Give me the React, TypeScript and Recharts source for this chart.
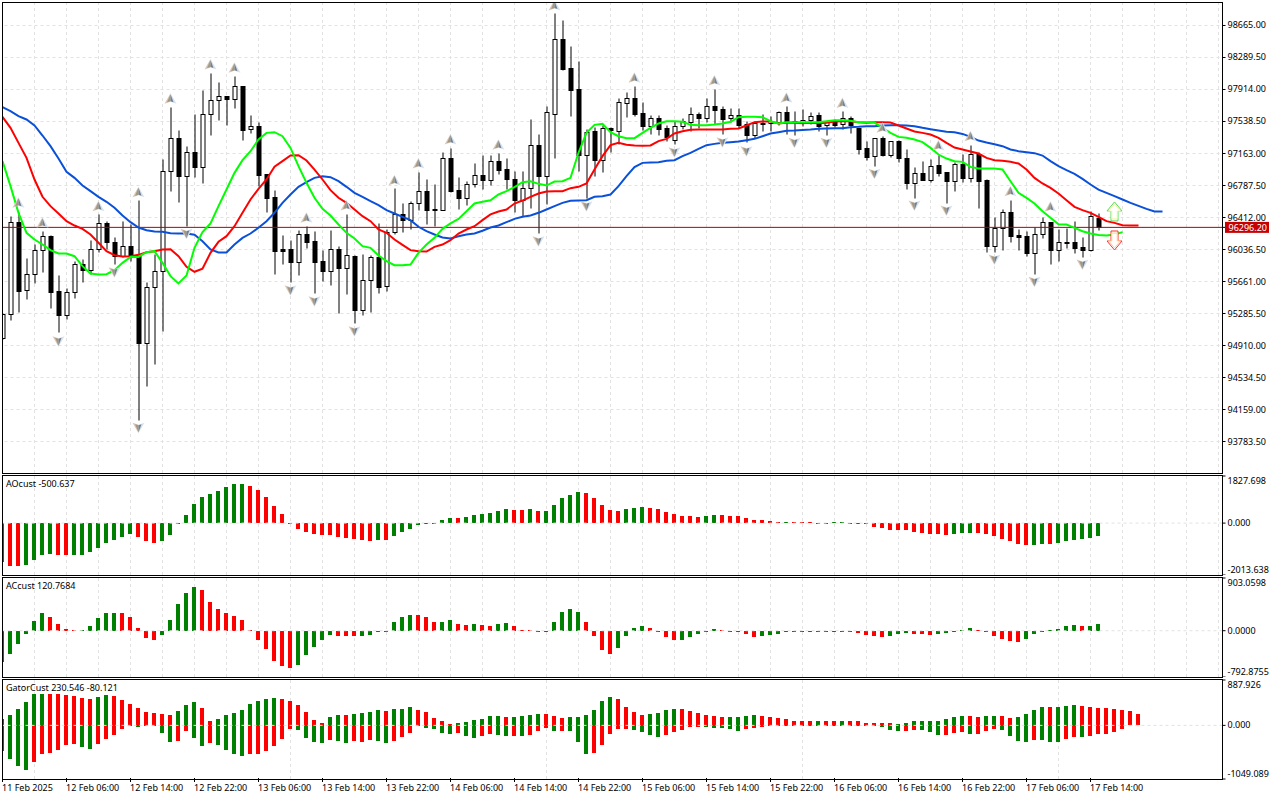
// App.tsx - BTC H1 chart with alligator, fractals, AO, AC and gator panes
import { Bar, CartesianGrid, ComposedChart, Line, ReferenceLine, XAxis, YAxis } from 'recharts'

const opens = [
  94989,95270,96349,95552,95739,96021,96185,95540,95258,95528,
  95857,95786,96033,96338,96115,95950,96068,95950,94930,95587,
  95775,96948,97335,96889,97171,97003,97617,97781,97828,97793,
  97945,97441,97476,96913,96643,96033,96033,95888,96209,96127,
  95892,95782,96033,95817,95954,95325,95669,95939,95599,96232,
  96448,96381,96572,96713,96502,96498,97100,96725,96639,96795,
  96901,96842,97065,96971,96854,96615,96748,97253,96897,97617,
  98497,98156,97914,97143,97417,97085,97460,97425,97754,97804,
  97628,97484,97570,97452,97319,97484,97531,97621,97578,97711,
  97675,97570,97605,97503,97374,97515,97515,97531,97640,97542,
  97530,97554,97613,97491,97523,97503,97570,97452,97218,97124,
  97339,97143,97304,97100,96815,96924,96850,97022,96936,96838,
  97034,96869,97147,96850,96075,96279,96467,96201,96185,95993,
  96208,96349,96025,96118,96115,96056,96025,96396,
]
const highs = [
  95290,96427,96467,95927,96095,96252,96201,95731,95575,95900,
  95919,96138,96448,96369,96177,96361,96326,96611,95646,95978,
  97092,97707,97433,97245,97617,97902,98102,97992,97828,98063,
  97945,97609,97523,96917,96725,96201,96138,96256,96310,96248,
  96029,96256,96068,96443,95962,95974,95966,96338,96271,96748,
  96576,96600,96940,96858,96795,97171,97222,96881,96834,97046,
  97140,97140,97163,97104,96952,96948,97562,97386,97718,98806,
  98724,98419,98239,97445,97468,97492,97472,97808,97875,97945,
  97758,97605,97609,97492,97535,97578,97703,97648,97808,97914,
  97718,97691,97691,97539,97539,97621,97601,97656,97718,97660,
  97679,97640,97640,97542,97562,97660,97593,97452,97307,97335,
  97358,97304,97310,97210,96998,97065,97092,97139,96944,97053,
  97151,97257,97178,96858,96412,96506,96611,96271,96248,96294,
  96408,96349,96271,96283,96361,96173,96486,96455,
]
const lows = [
  94981,95207,95301,95450,95638,95771,95348,95059,95215,95466,
  95646,95743,95997,96037,95861,95939,95900,94034,94426,94692,
  95074,96721,96592,96310,96885,96815,97378,97554,97495,97695,
  97319,97402,96780,96467,95747,95864,95653,95731,96052,95520,
  95665,95618,95290,95512,95172,95266,95301,95524,95548,96209,
  96232,96271,96494,96330,96310,96498,96709,96506,96553,96764,
  96741,96787,96920,96741,96475,96427,96514,96224,96565,97108,
  98141,97601,96956,96631,96889,96944,97179,97269,97589,97601,
  97437,97382,97378,97308,97265,97445,97417,97452,97523,97503,
  97390,97523,97452,97288,97343,97425,97425,97492,97386,97374,
  97483,97503,97425,97374,97464,97445,97397,97155,97085,97014,
  97131,97112,97053,96740,96639,96846,96826,96889,96576,96721,
  96826,96826,96517,96005,95997,96028,96122,96028,95958,95743,
  96169,95860,95892,96052,95989,95938,96017,96259,
]
const closes = [
  95274,96349,95548,95739,96021,96185,95536,95258,95528,95857,
  95786,96033,96338,96115,95950,96068,95950,94930,95587,95775,
  96948,97335,96889,97171,97003,97617,97781,97828,97793,97945,
  97437,97476,96909,96639,96017,96017,95888,96209,96123,95888,
  95782,96033,95817,95962,95325,95669,95939,95595,96240,96443,
  96373,96572,96713,96498,96498,97100,96717,96639,96795,96901,
  96842,97065,96967,96854,96615,96748,97253,96897,97640,98497,
  98149,97906,97143,97405,97085,97452,97437,97758,97804,97625,
  97484,97570,97449,97347,97484,97535,97617,97578,97711,97671,
  97562,97605,97495,97374,97511,97507,97535,97640,97534,97530,
  97554,97601,97483,97523,97495,97570,97495,97214,97120,97335,
  97139,97304,97100,96815,96924,96850,97014,96928,96838,97034,
  96869,97147,96830,96075,96279,96467,96193,96181,95989,96208,
  96349,96025,96115,96110,96048,96028,96420,96296.2,
]

// alligator lines, already shifted forward
const lips = [
  97073,96780,96467,96232,96154,96095,96029,95990,95990,95958,
  95841,95755,95743,95747,95794,95880,95950,95950,96005,96017,
  95880,95724,95638,95731,96056,96240,96342,96545,96741,96936,
  97085,97190,97327,97405,97413,97366,97229,97014,96819,96643,
  96514,96435,96330,96232,96166,96076,96056,95966,95900,95853,
  95853,95861,95997,96095,96173,96279,96342,96396,96486,96576,
  96596,96615,96682,96721,96768,96827,96838,96807,96787,96834,
  96838,96877,97171,97405,97499,97511,97413,97366,97343,97343,
  97405,97464,97515,97542,97542,97535,97499,97495,97495,97503,
  97515,97535,97589,97593,97593,97589,97542,97515,97530,97530,
  97530,97530,97530,97542,97554,97554,97546,97530,97530,97526,
  97464,97405,97358,97347,97327,97296,97229,97151,97104,97073,
  97065,97006,96987,96987,96987,96975,96838,96701,96642,96576,
  96486,96408,96333,96330,96290,96251,96224,96208,96201,96212,
  96240,
]
const teeth = [
  97593,97464,97288,97112,96858,96655,96545,96459,96369,96318,
  96279,96213,96115,96017,95970,95954,95958,95974,96005,96017,
  96037,96040,95958,95833,95775,95810,95997,96127,96193,96310,
  96467,96623,96748,96858,97007,97073,97140,97143,97081,96975,
  96858,96733,96643,96584,96506,96427,96369,96271,96232,96154,
  96091,96029,96017,96013,96068,96095,96146,96224,96271,96310,
  96381,96448,96482,96506,96576,96611,96655,96694,96717,96721,
  96721,96756,96772,96811,96975,97132,97261,97288,97265,97257,
  97253,97257,97308,97335,97398,97425,97441,97445,97445,97445,
  97445,97452,97456,97492,97531,97538,97538,97515,97523,97523,
  97519,97523,97519,97523,97538,97542,97542,97530,97523,97530,
  97530,97526,97491,97456,97421,97405,97386,97347,97288,97233,
  97210,97186,97163,97112,97085,97077,97065,97045,96975,96877,
  96811,96760,96693,96615,96537,96498,96467,96420,96369,96349,
  96322,96318,96318,
]
const jaw = [
  97707,97660,97601,97562,97492,97374,97249,97104,96948,96877,
  96787,96721,96655,96596,96526,96435,96357,96295,96263,96248,
  96244,96228,96224,96224,96209,96134,96037,96001,96001,96095,
  96173,96224,96291,96369,96467,96584,96682,96772,96827,96877,
  96897,96885,96838,96772,96701,96655,96604,96557,96498,96459,
  96420,96381,96303,96252,96213,96177,96166,96193,96213,96224,
  96256,96295,96318,96357,96396,96420,96435,96467,96506,96545,
  96584,96608,96611,96615,96655,96662,96682,96780,96897,97003,
  97053,97057,97061,97077,97085,97132,97171,97218,97261,97276,
  97288,97296,97304,97319,97335,97366,97398,97413,97429,97433,
  97440,97444,97452,97456,97460,97460,97472,97476,97483,97483,
  97491,97495,97495,97491,97483,97464,97448,97433,97417,97413,
  97393,97358,97315,97292,97272,97249,97210,97190,97178,97167,
  97139,97073,97014,96967,96924,96865,96799,96740,96701,96662,
  96623,96584,96549,96513,96482,96482,
]

// fractals: bar index and price of the marker
const upFractalBars = [2,5,12,17,21,26,29,38,43,49,52,56,62,69,79,89,98,105,110,117,121,126,131]
const upFractalPrices = [96584,96349,96545,96709,97804,98207,98168,96408,96553,96850,97046,97327,97265,98900,98051,98020,97816,97757,97464,97257,97366,96721,96537]
const downFractalBars = [7,14,17,23,36,39,44,67,73,84,90,93,99,103,109,114,118,124,129,135]
const downFractalPrices = [94960,95771,93944,96220,95559,95430,95078,96134,96545,97179,97296,97190,97288,97288,96924,96553,96494,95919,95657,95860]
const signalBar = 139
const buySignalPrice = 96483
const sellSignalPrice = 96142

const aoValues = [
  -1526,-1655,-1655,-1616,-1422,-1228,-1190,-1228,-1228,-1228,
  -1228,-1138,-957,-763,-647,-530,-414,-530,-685,-763,
  -685,-453,-45,323,750,1021,1138,1254,1409,1526,
  1526,1448,1293,1021,672,362,20,-220,-336,-414,
  -453,-453,-530,-569,-608,-647,-685,-647,-647,-491,
  -336,-220,-65,15,15,129,207,207,246,323,
  362,401,478,556,517,517,556,478,478,711,
  983,1099,1215,1177,983,711,517,478,556,595,
  634,595,556,440,362,284,284,246,284,323,
  323,284,284,207,129,129,90,52,52,45,
  40,35,15,-12,39,35,-12,-26,-52,-142,
  -181,-259,-259,-259,-336,-375,-414,-414,-453,-414,
  -375,-375,-375,-414,-491,-608,-685,-802,-840,-840,
  -802,-802,-763,-685,-647,-608,-569,-500.637,
]
const aoColors = 'rrrggggrrg' + 'gggggggrrr' + 'gggggggggg' + 'grrrrrrrrr' + 'rrrrrrrgrg' + 'gggggggrgg' + 'ggggrrgrgg' + 'gggrrrrrgg' + 'grrrrrrrgg' + 'rrrrrrrrgr' + 'rrrrggrrrr' + 'rrrrrrrrrg' + 'ggrrrrrrrg' + 'grgggggg'

const acValues = [
  -534,-403,-233,-57,159,295,227,108,23,11,
  6,74,210,295,312,295,227,40,-131,-165,
  -80,176,466,653,755,704,500,364,312,244,
  176,17,-165,-318,-523,-608,-642,-591,-420,-284,
  -165,-80,-97,-97,-97,-97,-80,-6,-6,142,
  227,261,261,227,142,142,176,108,91,108,
  91,74,108,125,74,17,11,-17,-6,142,
  329,364,329,142,-97,-335,-403,-301,-97,40,
  74,40,-28,-114,-165,-165,-114,-62,-6,34,
  17,-6,-11,-62,-114,-97,-80,-62,-28,-28,
  -6,-6,-28,-23,-6,-6,-6,-45,-80,-97,
  -114,-97,-62,-45,-62,-62,-80,-62,-45,-6,
  11,51,11,-11,-97,-148,-182,-199,-148,-62,
  -6,11,34,74,102,74,85,120.7684,
]
const acColors = 'rgggggrrrr' + 'gggggrrrrr' + 'gggggrrrrr' + 'rrrrrrrggg' + 'ggrrrggggg' + 'ggrrrggrrg' + 'rrggrrrrgg' + 'gggrrrrggg' + 'grrrrggggg' + 'rrrrrggggg' + 'ggrgggrrrr' + 'rgggrrrggg' + 'ggrrrrrrgg' + 'gggggrgg'

const gatorUpper = [
  123,201,318,454,610,610,610,610,591,571,
  532,513,552,591,571,493,415,337,260,240,
  221,201,279,396,454,337,84,123,201,240,
  299,415,474,513,532,513,474,396,260,104,
  45,162,201,201,221,240,260,299,279,318,
  318,357,299,260,143,84,26,45,65,104,
  123,182,182,162,162,182,201,221,221,182,
  143,162,162,201,299,474,552,513,357,260,
  201,221,240,299,318,318,279,240,201,182,
  162,162,162,182,201,182,162,143,123,84,
  84,84,84,84,84,84,84,84,45,45,
  39,39,26,45,84,84,84,84,123,162,
  182,182,162,182,182,182,143,162,221,299,
  357,357,357,376,396,376,357,337,337,318,
  299,279,230.546,
]
const gatorUpperColors = 'ggggggrrrr' + 'rrggrrrrrr' + 'rrgggrrggg' + 'gggggrrrrr' + 'rggrggggrg' + 'ggrrrrrggg' + 'gggrggggrr' + 'rggggggrrr' + 'rggggrrrrr' + 'rggggrrrrr' + 'rrgrrgrrrr' + 'rrgggggggg' + 'grrggrrggg' + 'grgggrrrrr' + 'rrr'
const gatorLower = [
  -493,-655,-792,-870,-714,-558,-539,-480,-383,-363,
  -422,-461,-363,-266,-188,-71,-6,-26,-6,-6,
  -149,-325,-305,-110,-247,-402,-344,-383,-480,-558,
  -597,-558,-558,-500,-402,-266,-71,-91,-247,-325,
  -344,-286,-305,-344,-305,-325,-286,-305,-344,-305,
  -227,-149,-13,-52,-71,-149,-169,-149,-208,-247,
  -208,-169,-188,-208,-208,-208,-188,-110,-52,-110,
  -110,-110,-325,-558,-539,-383,-169,-71,-71,-91,
  -130,-188,-227,-188,-130,-91,-32,-32,-32,-52,
  -52,-71,-110,-71,-52,-32,-13,-6,-13,-6,
  -6,-6,-13,-6,-6,-6,-6,-13,-6,-6,
  -32,-91,-110,-110,-91,-91,-130,-188,-188,-149,
  -130,-169,-169,-110,-71,-91,-208,-305,-325,-286,
  -286,-325,-325,-266,-227,-227,-208,-169,-169,-130,
  -80.121,
]
const gatorLowerColors = 'ggggrrrrrr' + 'ggrrrrrggr' + 'ggrrggrggg' + 'grrrrrrggg' + 'grggrrrggr' + 'rrrggggrgg' + 'rrggrgrrrg' + 'rgggrrrrrg' + 'gggrrrrrgg' + 'gggrrrrrrr' + 'rrgrrrrrrr' + 'gggrrgggrr' + 'rgrrrggggr' + 'gggrrgrrrr' + 'r'

const priceTicks = [98665,98289.5,97914,97538.5,97163,96787.5,96412,96036.5,95661,95285.5,94910,94534.5,94159,93783.5]
const lastPrice = 96296.2
const timeLabels: Record<number, string> = {
  0: '11 Feb 2025', 8: '12 Feb 06:00', 16: '12 Feb 14:00', 24: '12 Feb 22:00', 32: '13 Feb 06:00',
  40: '13 Feb 14:00', 48: '13 Feb 22:00', 56: '14 Feb 06:00', 64: '14 Feb 14:00', 72: '14 Feb 22:00',
  80: '15 Feb 06:00', 88: '15 Feb 14:00', 96: '15 Feb 22:00', 104: '16 Feb 06:00', 112: '16 Feb 14:00',
  120: '16 Feb 22:00', 128: '17 Feb 06:00', 136: '17 Feb 14:00',
}
const gridBars = Array.from({ length: 38 }, (_, k) => (k + 1) * 4)

const BAR_COUNT = 153 // 138 candles plus the empty space on the right
const rows = Array.from({ length: BAR_COUNT }, (_, i) => {
  const upAt = upFractalBars.indexOf(i)
  const downAt = downFractalBars.indexOf(i)
  return {
    i,
    range: i < opens.length ? [lows[i], highs[i]] : null,
    open: opens[i],
    close: closes[i],
    high: highs[i],
    low: lows[i],
    lips: lips[i] ?? null,
    teeth: teeth[i] ?? null,
    jaw: jaw[i] ?? null,
    upFractal: upAt >= 0 ? upFractalPrices[upAt] : null,
    downFractal: downAt >= 0 ? downFractalPrices[downAt] : null,
    buySignal: i === signalBar ? buySignalPrice : null,
    sellSignal: i === signalBar ? sellSignalPrice : null,
    ao: aoValues[i] ?? null,
    aoColor: aoColors[i],
    ac: acValues[i] ?? null,
    acColor: acColors[i],
    upper: gatorUpper[i] ?? null,
    upperColor: gatorUpperColors[i],
    lower: gatorLower[i] ?? null,
    lowerColor: gatorLowerColors[i],
  }
})

const FONT = '"Noto Sans", sans-serif'
const FONT_SIZE = 9
const GRID = '#e2e2e2'
const CHART_W = 1280
const PAD = 4 // room above each lower pane so the top label is not cut
const MARGIN = { top: 0, right: 0, bottom: 0, left: -1.5 }
const PANE_MARGIN = { top: PAD, right: 0, bottom: 0, left: -1.5 }
const AXIS_W = 57.5

function Candle(p: any) {
  const d = p.payload
  if (!d || !d.range || !Number.isFinite(p.y)) return <g />
  const cx = p.x + p.width / 2
  const top = Math.min(p.y, p.y + p.height)
  const h = Math.abs(p.height)
  const py = (v: number) => Math.floor(top + ((d.high - v) / (d.high - d.low)) * h) + 0.5
  const up = d.close >= d.open
  const bodyTop = py(Math.max(d.open, d.close))
  const bodyBot = py(Math.min(d.open, d.close))
  return (
    <g>
      <line x1={cx} x2={cx} y1={py(d.high)} y2={py(d.low)} stroke="#000" />
      <rect x={cx - 2} y={bodyTop} width={4} height={Math.max(bodyBot - bodyTop, 1)} fill={up ? '#fff' : '#000'} stroke="#000" />
    </g>
  )
}

function HistBar(p: any) {
  const color = p.payload?.[p.colorKey]
  if (!color || !Number.isFinite(p.y) || !Number.isFinite(p.height)) return <g />
  const y1 = Math.round(Math.min(p.y, p.y + p.height))
  const y2 = Math.round(Math.max(p.y, p.y + p.height))
  return <rect x={Math.floor(p.x)} y={y1} width={4} height={Math.max(y2 - y1, 1)} fill={color === 'g' ? '#008000' : '#ff0000'} />
}

function FractalArrow({ cx, cy, dir }: { cx?: number; cy?: number; dir: 1 | -1 }) {
  if (cx == null || cy == null || !Number.isFinite(cy)) return <g />
  const s = dir // +1 points up, -1 points down
  const pt = (x: number, y: number) => `${cx + x},${cy + y * s}`
  return (
    <g>
      <polygon points={`${pt(0, -5.5)} ${pt(-6, 5)} ${pt(0, 3)}`} fill="#d6c9bb" />
      <polygon points={`${pt(0, -5.5)} ${pt(6, 5)} ${pt(0, 3)}`} fill="#d5e2ee" />
      <polygon points={`${pt(0, -4.5)} ${pt(-3.5, 3.5)} ${pt(0, 2.5)}`} fill="#a8977f" />
      <polygon points={`${pt(0, -4.5)} ${pt(3, 3.5)} ${pt(0, 2.5)}`} fill="#74808c" />
    </g>
  )
}

function SignalArrow({ cx, cy, dir, outer, inner }: { cx?: number; cy?: number; dir: 1 | -1; outer: string; inner: string }) {
  if (cx == null || cy == null || !Number.isFinite(cy)) return <g />
  const shape = (k: number) => {
    const pts = [[0, -9.5], [7.5, -0.5], [3.5, -0.5], [3.5, 9.5], [-3.5, 9.5], [-3.5, -0.5], [-7.5, -0.5]]
    return pts.map(([x, y]) => `${cx + x * k},${cy + y * k * dir}`).join(' ')
  }
  return (
    <g>
      <polygon points={shape(1)} fill="#fff" stroke={outer} />
      <polygon points={shape(0.78)} fill="#fff" stroke={inner} />
    </g>
  )
}

function PriceTick(p: any) {
  const v = p.payload.value
  const x = 1227.5
  if (v === lastPrice) {
    return (
      <g>
        <rect x={x - 2.5} y={p.y - 5.5} width={44} height={11} fill="#c80000" />
        <text x={x + 1} y={p.y + 3.5} fontFamily={FONT} fontSize={FONT_SIZE} fill="#fff">{v.toFixed(2)}</text>
      </g>
    )
  }
  return <text x={x} y={p.y + 3} fontFamily={FONT} fontSize={FONT_SIZE} fill="#000">{v.toFixed(2)}</text>
}

const paneTick = (digits: number, max: number, min: number) => (p: any) => {
  const v = p.payload.value
  const dy = v === max ? 7.5 : v === min ? -2.5 : 3
  return <text x={1227.5} y={p.y + dy} fontFamily={FONT} fontSize={FONT_SIZE} fill="#000">{v.toFixed(digits)}</text>
}

function TimeTick(p: any) {
  const label = timeLabels[p.payload.value]
  if (!label) return <g />
  const x = Math.floor(p.x)
  return (
    <g>
      <line x1={x + 0.5} x2={x + 0.5} y1={p.y - 9} y2={p.y - 5} stroke="#000" />
      <text x={x} y={p.y + 4} fontFamily={FONT} fontSize={FONT_SIZE} fill="#000">{label}</text>
    </g>
  )
}

function Pane({ top, height, children }: { top: number; height: number; children: any }) {
  return <div style={{ position: 'absolute', left: 0, top, width: CHART_W, height }}>{children}</div>
}

function Frame({ top, bottom }: { top: number; bottom: number }) {
  return (
    <div style={{ position: 'absolute', left: 2, top, width: 1221, height: bottom - top + 1, border: '1px solid #000', boxSizing: 'border-box', pointerEvents: 'none' }} />
  )
}

function Title({ top, text }: { top: number; text: string }) {
  return (
    <div style={{ position: 'absolute', left: 6, top, fontFamily: FONT, fontSize: FONT_SIZE, lineHeight: '12px', color: '#000', whiteSpace: 'pre' }}>{text}</div>
  )
}

const AO_MAX = 1827.698
const AO_MIN = -2013.638
const AC_MAX = 903.0598
const AC_MIN = -792.8755
const GATOR_MAX = 887.926
const GATOR_MIN = -1049.089

export default function App() {
  return (
    <div style={{ position: 'absolute', left: 0, top: 0, width: 1280, height: 800, background: '#fff', overflow: 'hidden' }}>
      <Pane top={2} height={471}>
        <ComposedChart width={CHART_W} height={471} data={rows} margin={MARGIN} barCategoryGap={0}>
          <XAxis dataKey="i" hide padding={{ left: 0, right: 0 }} />
          <YAxis
            orientation="right"
            width={AXIS_W}
            domain={[93414, 98940.7]}
            allowDataOverflow
            ticks={[...priceTicks, lastPrice]}
            interval={0}
            axisLine={false}
            tickSize={3}
            tickLine={{ stroke: '#000' }}
            tick={PriceTick}
          />
          <CartesianGrid stroke={GRID} strokeDasharray="3 3" horizontalValues={priceTicks} verticalValues={gridBars} />
          <Bar dataKey="range" barSize={5} shape={Candle} isAnimationActive={false} />
          <ReferenceLine y={lastPrice} stroke="#b40000" />
          <Line dataKey="jaw" stroke="#0a50d8" strokeWidth={2} dot={false} isAnimationActive={false} />
          <Line dataKey="teeth" stroke="#ff0000" strokeWidth={2} dot={false} isAnimationActive={false} />
          <Line dataKey="lips" stroke="#00ff00" strokeWidth={2} dot={false} isAnimationActive={false} />
          <Line dataKey="upFractal" stroke="none" isAnimationActive={false}
            dot={(p: any) => <FractalArrow key={p.key} cx={p.cx} cy={p.cy} dir={1} />} />
          <Line dataKey="downFractal" stroke="none" isAnimationActive={false}
            dot={(p: any) => <FractalArrow key={p.key} cx={p.cx} cy={p.cy} dir={-1} />} />
          <Line dataKey="buySignal" stroke="none" isAnimationActive={false}
            dot={(p: any) => <SignalArrow key={p.key} cx={p.cx} cy={p.cy} dir={1} outer="#55dd55" inner="#f2f0b0" />} />
          <Line dataKey="sellSignal" stroke="none" isAnimationActive={false}
            dot={(p: any) => <SignalArrow key={p.key} cx={p.cx} cy={p.cy} dir={-1} outer="#ff3333" inner="#ffd090" />} />
        </ComposedChart>
      </Pane>

      <Pane top={476 - PAD} height={99 + PAD}>
        <ComposedChart width={CHART_W} height={99 + PAD} data={rows} margin={PANE_MARGIN} barCategoryGap={0}>
          <XAxis dataKey="i" hide padding={{ left: 0, right: 0 }} />
          <YAxis orientation="right" width={AXIS_W} domain={[AO_MIN, AO_MAX]} allowDataOverflow ticks={[AO_MAX, 0, AO_MIN]} interval={0}
            axisLine={false} tickSize={3} tickLine={{ stroke: '#000' }} tick={paneTick(3, AO_MAX, AO_MIN)} />
          <CartesianGrid stroke={GRID} strokeDasharray="3 3" horizontal={false} verticalValues={gridBars} />
          <Bar dataKey="ao" barSize={4} isAnimationActive={false} shape={(p: any) => <HistBar {...p} colorKey="aoColor" />} />
          <ReferenceLine y={0} stroke={GRID} strokeDasharray="3 3" />
        </ComposedChart>
      </Pane>

      <Pane top={578 - PAD} height={99 + PAD}>
        <ComposedChart width={CHART_W} height={99 + PAD} data={rows} margin={PANE_MARGIN} barCategoryGap={0}>
          <XAxis dataKey="i" hide padding={{ left: 0, right: 0 }} />
          <YAxis orientation="right" width={AXIS_W} domain={[AC_MIN, AC_MAX]} allowDataOverflow ticks={[AC_MAX, 0, AC_MIN]} interval={0}
            axisLine={false} tickSize={3} tickLine={{ stroke: '#000' }} tick={paneTick(4, AC_MAX, AC_MIN)} />
          <CartesianGrid stroke={GRID} strokeDasharray="3 3" horizontal={false} verticalValues={gridBars} />
          <Bar dataKey="ac" barSize={4} isAnimationActive={false} shape={(p: any) => <HistBar {...p} colorKey="acColor" />} />
          <ReferenceLine y={0} stroke={GRID} strokeDasharray="3 3" />
        </ComposedChart>
      </Pane>

      <Pane top={680 - PAD} height={120 + PAD}>
        <ComposedChart width={CHART_W} height={120 + PAD} data={rows} margin={PANE_MARGIN} barCategoryGap={0} stackOffset="sign">
          <XAxis dataKey="i" height={21} interval={7} padding={{ left: 0, right: 0 }} axisLine={false} tickLine={false} tick={TimeTick} />
          <YAxis orientation="right" width={AXIS_W} domain={[GATOR_MIN, GATOR_MAX]} allowDataOverflow ticks={[GATOR_MAX, 0, GATOR_MIN]} interval={0}
            axisLine={false} tickSize={3} tickLine={{ stroke: '#000' }} tick={paneTick(3, GATOR_MAX, GATOR_MIN)} />
          <CartesianGrid stroke={GRID} strokeDasharray="3 3" horizontal={false} verticalValues={gridBars} />
          <Bar dataKey="upper" stackId="gator" barSize={4} isAnimationActive={false} shape={(p: any) => <HistBar {...p} colorKey="upperColor" />} />
          <Bar dataKey="lower" stackId="gator" barSize={4} isAnimationActive={false} shape={(p: any) => <HistBar {...p} colorKey="lowerColor" />} />
          <ReferenceLine y={0} stroke={GRID} strokeDasharray="3 3" />
        </ComposedChart>
      </Pane>

      {/* clip the first candle and bars at the frame, as the terminal does */}
      <div style={{ position: 'absolute', left: 0, top: 0, width: 2, height: 800, background: '#fff' }} />
      <Frame top={2} bottom={473} />
      <Frame top={475} bottom={575} />
      <Frame top={577} bottom={677} />
      <Frame top={679} bottom={779} />

      <Title top={478} text="AOcust -500.637" />
      <Title top={580} text="ACcust 120.7684" />
      <Title top={682} text="GatorCust 230.546 -80.121" />
    </div>
  )
}
